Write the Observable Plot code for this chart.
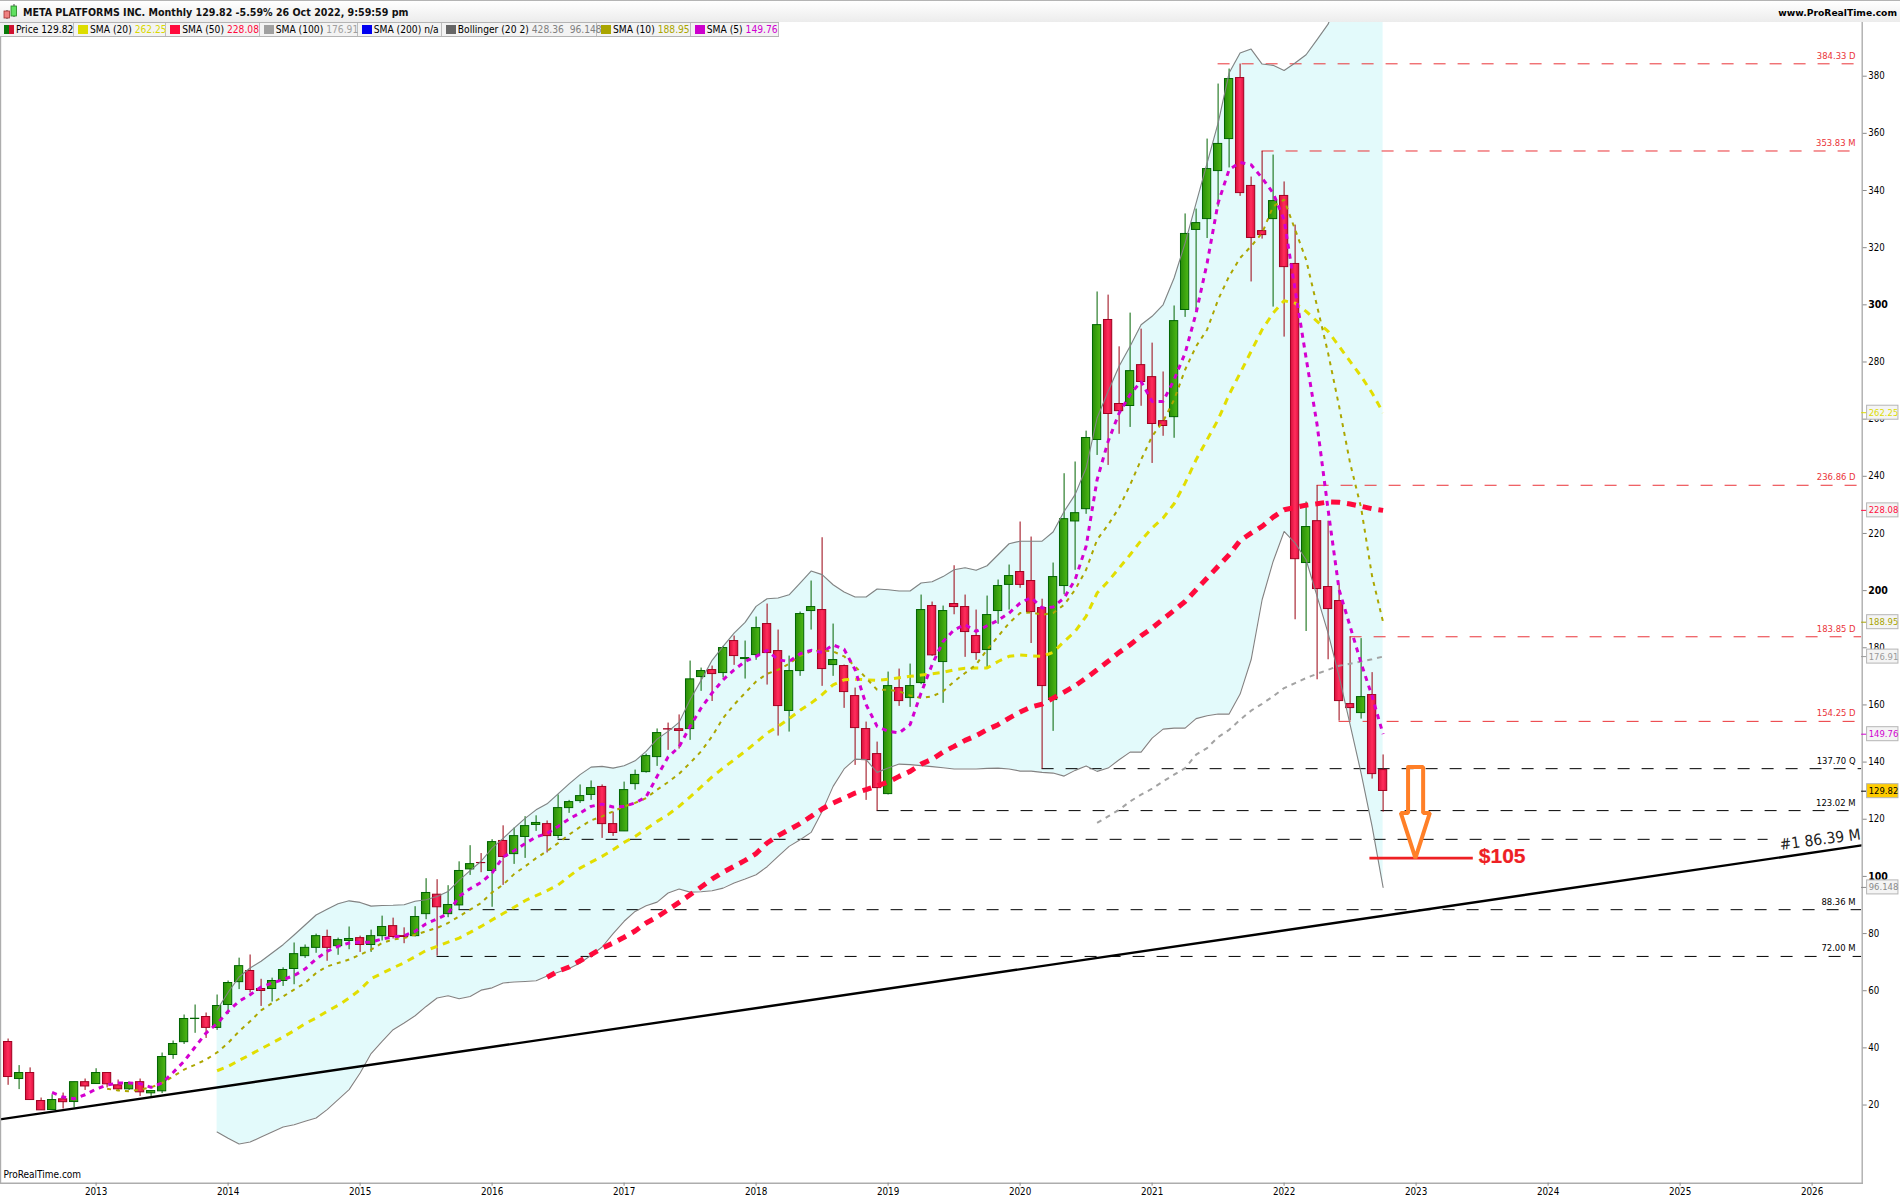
<!DOCTYPE html>
<html>
<head>
<meta charset="utf-8">
<script src="https://cdn.jsdelivr.net/npm/d3@7"></script>
<script src="https://cdn.jsdelivr.net/npm/@observablehq/plot@0.6"></script>
<style>
html,body{margin:0;padding:0;background:#fff;width:1900px;height:1200px;overflow:hidden}
body{position:relative;font-family:"DejaVu Sans Condensed","DejaVu Sans",sans-serif;font-stretch:condensed;color:#000}
#page{position:absolute;left:0;top:0;width:1900px;height:1200px}
#head{position:absolute;left:0;top:0;width:1900px;height:21px;border-top:1px solid #b4b4b4;background:linear-gradient(#ffffff,#ececec);font-size:10.6px;line-height:23px;z-index:2}
#head .t{position:absolute;left:23px;top:0;font-weight:600;color:#111;white-space:nowrap}
#head .w{position:absolute;right:3px;top:0;font-weight:700;white-space:nowrap;font-stretch:normal;font-family:"DejaVu Sans",sans-serif;font-size:9.2px}
#head svg{position:absolute;left:3px;top:2px}
#legend{position:absolute;left:0;top:22px;height:15px;z-index:2;font-size:10.2px;line-height:15px;background:#f3f3f3;border-top:1px solid #b4b4b4;border-bottom:1px solid #b4b4b4;box-sizing:border-box;}
#legend .c{position:absolute;top:0;height:13px;border-right:1px solid #bdbdbd;white-space:nowrap;box-sizing:border-box}
#legend .s{position:absolute;left:4px;top:2px;width:10px;height:9px}
#legend .l{position:absolute;left:16px;top:-1px}
#plot{position:absolute;left:0;top:22px}
#plot svg{display:block;font-stretch:condensed}
</style>
</head>
<body>
<div id="page">
<div id="head">
  <svg width="16" height="18" viewBox="0 0 16 18"><path d="M4 7V16M11 1V14" stroke="#444" stroke-width="1"/><rect x="1" y="8" width="5.5" height="7" fill="#ef8080" stroke="#a03030" stroke-width=".8"/><rect x="8" y="3" width="5.5" height="10" fill="#60e060" stroke="#208020" stroke-width=".8"/></svg>
  <span class="t" id="title"></span><span class="w" id="site"></span>
</div>
<div id="legend"></div>
<div id="plot"></div>
</div>
<script>
const titleText = "META PLATFORMS INC. Monthly 129.82 -5.59% 26 Oct 2022, 9:59:59 pm";
const siteText = "www.ProRealTime.com";
const footerText = "ProRealTime.com";

// Monthly candles, May 2012 (index 0) to Oct 2022 (index 125)
const opens = [42.05,29.1,31.2,21.4,18.25,22,21.05,28,27.35,31.2,26.9,25.5,28,24.1,24.8,37.5,42,50.1,50.8,47,
55,63,66.9,60.6,60.6,63.4,67.6,72.1,75,78.8,75.6,77.4,78.4,76,79.1,82.6,79.1,79.1,86.8,93.6,
86.8,89.85,102.45,104.7,101.9,112.4,107.8,113.8,118,118.3,114.15,123.9,126.35,128.5,131.3,118.3,115.75,132.3,136.5,141.75,
151.5,151.5,151.55,169.75,172.2,171.15,182.35,176.05,177.45,188.3,178.85,157.9,171.85,192.85,193.2,173.95,173.6,163.1,151.55,142.8,
128.8,165.9,162.4,167.65,194.6,175,195.3,194.25,184.1,179.2,192.85,202,206.5,203.35,193.9,161.7,201.6,224.2,228.5,252.7,
294.7,265.3,264.6,278.9,274.7,259.3,260.7,298.2,326.2,330,346.8,358,379.35,341.6,325.8,330,338.1,314.3,209.65,224.3,
201.25,196.35,160.3,157.15,163.45,137.2];
const highs = [43.1,33.8,33,22.45,23.6,24.2,28,29.1,32.7,31.2,28.75,28,29.1,25.1,38.2,42.4,51.5,55,52.2,58.5,
63.4,71.4,72.5,64,64.4,68,76.7,76,79.8,81.2,78.4,82.3,79.1,81.2,86.1,85.4,82,89.4,99.2,98.85,
96.75,105.1,110.75,108,112.85,117.7,116.9,120.9,121.2,119.4,128.5,126.6,132,133.4,132,122.5,133,137.2,142.8,151.6,
153.65,156.5,175.35,172.9,173.6,180.5,184.1,182.35,190.75,195.3,186.2,177.1,192.5,203.35,218.5,188.3,173.95,165.9,154,147,
171.5,172.55,174.3,198.45,196,194.6,208.7,198.45,193.2,198.1,203.7,208.95,224,218.75,197,209.65,240.9,245,255.8,304.5,
303.4,285.3,297.1,291.5,286.6,276.5,299.6,331.8,333.5,358,377.25,382.5,384.25,344.7,353.7,352.4,343,327.9,231,236.7,
224.3,202,183.75,183.2,171.3,142.5];
const lows = [26.9,25.4,21.6,18.1,18.2,18.6,19,25.1,27.3,26,25.1,25.1,23,23,24,36,41.2,45.1,43.3,46.1,
51.7,60.4,59.2,54.5,56.05,61.5,62.1,71.3,73.1,70.3,72.4,74.35,73.4,73.4,77.4,78.1,76.45,78.8,84.85,72.1,
85.55,88.2,100.35,101.3,89.2,96.85,104.2,106.3,115.75,108.2,113.1,122.05,125.55,126.6,113.3,114,115.7,130.2,136.15,138.5,
144.1,144.55,147.6,164.75,161.2,169.4,173.85,169.05,175.6,166.95,149.1,150.5,170,186.2,166.5,170,158.8,138.85,126.6,122.9,
128.5,159.5,159.15,167.1,177,160.55,191.55,176.65,175.6,172.8,188.2,193.2,200.8,181.5,137.55,150.75,198.55,207.1,226.7,247.3,
243.8,254.7,257.1,264.5,244.5,254,253.3,295.6,298,323.2,334.2,347.9,337.95,308,323,299.2,288.7,189.8,185.7,168.8,
175.8,154.35,154.4,155.05,134.05,122.5];
const closes = [29.8,31.2,21.75,18.15,21.75,21,28,26.5,31.2,27.25,25.5,27.7,24.45,24.9,36.8,41.35,50.1,50.2,47,54.65,
62.7,68.6,60.25,59.9,63.4,67.25,72.8,75,79.1,75,77.7,78.1,76,79.1,82.3,78.8,78.8,85.8,94.2,89.2,
90,101.9,104.3,104.65,112,106.8,114.1,117.6,118.7,114.1,123.9,126,128.1,130.9,118.3,115.2,130.2,135.5,142.1,150.15,
151.4,150.9,168.95,171.85,170.8,179.9,177.1,176.4,186.9,178.15,159.6,171.85,191.8,194.25,172.55,175.7,164.5,151.9,140.7,130.9,
166.6,161.35,166.6,193.2,177.35,192.85,194.25,185.5,178.15,191.45,201.6,205.1,202,192.5,166.6,204.75,225,227.1,253.4,292.9,
261.8,262.8,276.8,273,258.3,257.6,294.3,324.8,328.6,347.5,356.3,379,339.1,323.4,324.4,336.3,313.2,211,222.25,200.55,
193.55,161.35,158.9,162.75,135.8,129.9];

// Indicator readings by month index
const sma5Start = 4;
const sma5 = [24.4,22.8,22.2,23.6,25.6,27,27.7,27.7,27.5,26.2,27.7,31.4,35.3,40.3,45.2,48.5,52.8,56.3,58.6,61.3,
62.7,63.9,65.3,67.6,71.1,73.8,75.5,76.7,77,77,78.1,78.8,79.25,80.8,83.4,85.1,87,93,95.7,97.9,
101.2,106.8,109,111.5,113.8,115,117.5,120.1,122.2,124.5,125.3,124.3,124.5,125.7,127.8,135,141.8,145.3,152.5,158.9,
164.2,168.8,172.3,175.2,177,179.1,175.8,175.2,177.9,179.1,178.4,181,179.5,172.3,160.1,152.5,150.75,150.2,153.1,164.2,
174.1,182.2,186.3,188.1,185.7,187.7,189.6,192.15,195.65,197.6,193.9,194.25,197.4,203.8,215.5,238.8,252.2,262.1,268.6,273.2,
266.2,266.2,273.8,283.1,297.1,314.6,335.6,347.3,349.8,349,344.4,339.1,329.8,305.3,281.4,258,228.3,200.3,187.5,174.65,
163,149.76];
const sma10Start = 9;
const sma10 = [25.7,25.1,24.8,25.4,26.2,27.7,30,32.4,34.1,35.9,38.4,41.7,45.8,49.3,53.1,55.7,58,60.4,62.7,66.2,
68.5,69.7,70.9,72.6,74.35,76.7,77.9,78.4,79.6,80.8,82,83.7,86,88.35,90.7,94.4,97.1,100.8,103.5,106.4,
108.9,111.65,114.6,117.3,119.6,121,122.75,124.5,125.7,127.4,130.35,133,135.95,139.7,143.75,149,155.4,160.1,164.2,168.2,
170.9,172.3,174.4,177.2,178.75,179.1,178.75,177,173.5,169.4,165.3,165.3,164.75,163.3,162.4,163,164.75,168.2,171.15,174.1,
179.3,184,188.65,192.15,192.4,191.55,192.15,195.05,200.3,207.3,217.8,223,229,237,245.8,254,259.2,266.8,277.3,285.5,
291.3,301.8,310,316.4,320.5,325.1,334.4,336.8,326.3,315.8,299.5,283.1,264.5,244.6,229,205,188.95];
const sma20Start = 19;
const sma20 = [32,33.5,35.6,37.6,39.7,41.7,43.8,46,48.5,50.45,52.8,54.9,57.45,60.35,64.2,66.1,68,69.8,71.9,74.1,
75.5,77,78.4,80.4,82.5,84.8,87,89.2,91.5,93.25,95,97,100,102.9,105,107,109.35,111.9,114,116.6,
119.25,121.6,124.5,127.8,131.3,134.8,137.9,140.8,143.75,146.9,150.15,152.5,155.2,158.1,160.65,163.6,167.05,168.8,169,168.8,
168.6,169,169.5,170,170.45,170.9,171.4,172.3,172.8,172.9,172.9,175.2,177,177.45,177.2,177,178.4,182.2,185.7,191,
199.15,203.2,207.9,212.55,217.55,221.9,225.4,230.4,237.6,245.8,252.8,259.8,268.6,276.1,283.7,291.3,297.1,301.4,300.6,297.7,
294.2,290.7,285.5,280.2,275,269.15,262.25];
const sma50Start = 49;
const sma50 = [64.7,66.8,68.3,70.5,72.6,74.9,76.7,78.7,80.9,83.7,85.8,88.35,90.9,93.6,96.3,99.1,101.5,103.5,105.6,108,
111.7,114.25,116.35,118.45,121,123.6,125.65,127.4,129.15,130.35,131.7,133,135,136.75,139.3,141,143.5,145.5,147.6,149.2,
151.35,153.1,155.4,157.5,159.25,160.3,162.4,164.5,166.7,169.4,172.3,175.25,178.4,181.05,184.2,186.9,190.05,193.1,196.2,200.3,
204.4,208.5,212.55,217.5,220.1,222.5,225.7,228.3,229.1,229.9,230.4,231,230.9,230.3,229.5,228.65,228.08];
const sma100Start = 99;
const sma100 = [118.7,121,123.3,126.25,128.6,130.7,133.25,135.6,137.9,142.6,144.9,148.75,151.3,154.8,158,160.4,163,165.9,167.65,169.4,
170.9,172.3,173.7,174.4,175.2,176,176.91];
const bollStart = 19;
const bollUpper = [53.35,59.4,64.8,67.95,70.3,73.2,76.1,79.5,83,86.5,88.5,90.4,91.45,90.9,89.6,89.8,89.9,90.1,91.3,91.85,
93,94.75,98.6,102,105.3,109.9,113.3,116.9,120.3,123.3,125.4,128.9,132.4,135.6,138.25,138.5,137.9,138.7,140.45,143.75,
148.05,150.75,153.9,161.8,168.6,175.6,180.5,185.15,188.9,194.5,197.15,197.4,198.55,202.65,206.85,205.6,202.05,199.5,197.75,197.75,
200.55,200.3,199.85,199.85,202.65,203.1,204.9,207.3,208,207.1,208.7,212.55,216.4,217.3,217.3,217.3,220.5,227.7,233.6,242.9,
260.4,269.7,278.5,285.5,293.05,296,300,309.4,321.6,335.6,349.6,363.6,381.1,388.1,389.5,384.25,383.8,382,384.6,387.5,
392.8,398.2,408,416,422,426,428.36];
const bollLower = [10.55,8.35,6.35,7.05,8.8,10.55,12.3,13.1,14.3,15.45,18.4,21.9,25.4,31.2,38,42.3,46.35,48.7,51.25,54.5,
57.45,58.25,57.2,58,60.2,61,62.7,63.05,63.25,63.5,65.15,66.5,67.8,69.7,72.4,75.3,79.95,84.3,87.75,89.75,
91,94.2,95.6,94.5,94.65,95,95.9,97.7,99.1,100.6,103.4,107,110.5,112.85,115.4,122.75,131.5,137.6,141.05,140.85,
136.4,137.9,139.3,139.1,138.75,138.4,138,137.6,137.6,137.6,137.8,137.9,137.6,136.85,136.85,136.4,136.15,135.1,137.1,138.6,
136.75,137.9,140.8,143.5,143.5,148.4,151.55,151.9,151.9,155.2,156.2,156.8,156.8,163.8,175.8,196.8,210.2,220.7,216.65,210.8,
198,185.15,170,153.1,136.15,117.5,96.148];

// Horizontal price levels
const levelValues = [384.33,353.83,236.86,183.85,154.25,137.7,123.02,112.97,88.36,72];
const levelTexts  = ["384.33 D","353.83 M","236.86 D","183.85 D","154.25 D","137.70 Q","123.02 M","","88.36 M","72.00 M"];
const levelStarts = [110,114,119,122,121,94,79,50,41,39];
const levelEnds   = [167.9,167.5,168.1,168.5,168.5,168.5,167.5,160,168.5,168.5];
const levelColors = ["#ea3338","#ea3338","#ea3338","#ea3338","#ea3338","#000","#000","#000","#000","#000"];

// Trend line and drawn annotations
const trendIdx = [-0.76,168.5];
const trendVal = [14.97,110.85];
const trendLabel = "#1 86.39 M";
const targetValue = 106.4;
const targetIdx = [123.8,133.2];
const targetText = "$105";
const arrowIdx = [127.27,128.64,128.64,129.25,127.94,126.61,127.27,127.27];
const arrowVal = [138.3,138.3,122.2,122.2,106.4,122.2,122.2,138.3];

// Right-hand value tags
const tagValues = [262.25,228.08,188.95,176.91,149.76,129.82,96.148];
const tagTexts  = ["262.25","228.08","188.95","176.91","149.76","129.82","96.148"];
const tagColors = ["#dcdc00","#ff1040","#a8a400","#9a9a9a","#d000d0","#000","#8a8a8a"];
const tagFills  = ["#f4f4f4","#f4f4f4","#f4f4f4","#f4f4f4","#f4f4f4","#ffcc00","#f4f4f4"];

// Axes
const yTicks = [20,40,60,80,120,140,160,180,220,240,260,280,320,340,360,380];
const yBoldTicks = [100,200,300];
const yearLabels = [2013,2014,2015,2016,2017,2018,2019,2020,2021,2022,2023,2024,2025,2026];
const yearIdx = yearLabels.map(y => 8 + (y - 2013) * 12);

// Legend row
const legendNames  = ["Price","SMA (20)","SMA (50)","SMA (100)","SMA (200)","Bollinger (20 2)","SMA (10)","SMA (5)"];
const legendValues = ["129.82","262.25","228.08","176.91","n/a","428.36  96.148","188.95","149.76"];
const legendSwatch = ["#c00","#dddd00","#ff0a3c","#a0a0a0","#0000f0","#666","#aaa500","#cc00cc"];
const legendValCol = ["#000","#d8d800","#ff0a3c","#a0a0a0","#000","#808080","#aaa500","#d000d0"];
const legendEdges  = [0,74,166.3,259.7,357.7,441.8,597,690.8,779];

document.getElementById("title").textContent = titleText;
document.getElementById("site").textContent = siteText;
const leg = document.getElementById("legend");
leg.style.width = legendEdges[legendEdges.length-1] + "px";
legendNames.forEach((n,k)=>{
  const c = document.createElement("div"); c.className="c";
  c.style.left = legendEdges[k]+"px"; c.style.width=(legendEdges[k+1]-legendEdges[k])+"px";
  const s = document.createElement("span"); s.className="s";
  s.style.background = k===0 ? "linear-gradient(90deg,#0a7a0a 50%,#d01030 50%)" : legendSwatch[k];
  const l = document.createElement("span"); l.className="l";
  const v = document.createElement("span"); v.style.color=legendValCol[k]; v.style.whiteSpace="pre"; v.textContent=legendValues[k];
  l.append(n+" ",v);
  c.append(s,l); leg.append(c);
});

const candles = opens.map((o,i)=>({i,o,h:highs[i],l:lows[i],c:closes[i]}));
const up = candles.filter(d=>d.c>=d.o), down = candles.filter(d=>d.c<d.o);
const series = (arr,start)=>arr.map((v,k)=>({i:start+k,v}));
const band = bollUpper.map((u,k)=>({i:bollStart+k,u,d:bollLower[k]}));
const levels = levelValues.map((v,k)=>({v,t:levelTexts[k],a:levelStarts[k],b:levelEnds[k],c:levelColors[k]}));
const trend = trendIdx.map((x,k)=>({x,y:trendVal[k]}));
const arrow = arrowIdx.map((x,k)=>({x,y:arrowVal[k]}));
const tags = tagValues.map((v,k)=>({v,t:tagTexts[k],c:tagColors[k],f:tagFills[k]}));
const halfBody = 0.375;
const tagX1 = 169, tagX2 = 171.85, tagH = 2.45, labelEnd = 167.95;

const defs = () => {
  const s = d3.create("svg:defs");
  const g = (id,stops)=>{
    const lg = s.append("linearGradient").attr("id",id).attr("x1",0).attr("x2",1).attr("y1",0).attr("y2",0);
    stops.forEach(([o,c])=>lg.append("stop").attr("offset",o).attr("stop-color",c));
  };
  g("candleUp",[[0,"#2a8c0a"],[0.6,"#3ea80f"],[1,"#4fb518"]]);
  g("candleDown",[[0,"#d80f3c"],[0.55,"#ff2e5c"],[1,"#e01040"]]);
  return s.node();
};

const clipLine = (arr,start,stroke,w,dash) => Plot.line(series(arr,start),{x:"i",y:"v",stroke,strokeWidth:w,strokeDasharray:dash,strokeLinecap:"butt",strokeLinejoin:"miter",clip:true});

const chart = Plot.plot({
  width:1900, height:1178,
  marginLeft:0, marginRight:38.3, marginTop:0, marginBottom:17.3,
  style:{fontFamily:'"DejaVu Sans Condensed","DejaVu Sans",sans-serif',fontSize:"9.6px",background:"#fff",color:"#000"},
  x:{type:"linear",domain:[0,125],range:[7.6,1382.6],axis:null},
  y:{type:"linear",domain:[-7.07,399.07],range:[1159.9,-0.8],axis:null},
  color:{type:"identity"},
  marks:[
    defs,
    Plot.areaY(band,{x:"i",y1:"d",y2:"u",fill:"#e3fafb",clip:true}),
    Plot.ruleY(levels,{y:"v",x1:"a",x2:"b",stroke:"c",strokeWidth:1,strokeDasharray:"12,12"}),
    Plot.text(levels.filter(d=>d.t),{y:"v",x:()=>labelEnd,text:"t",fill:"c",textAnchor:"end",dy:-8,fontSize:9.4}),
    Plot.ruleX(up,{x:"i",y1:"l",y2:"h",stroke:"#006400",strokeWidth:1}),
    Plot.ruleX(down,{x:"i",y1:"l",y2:"h",stroke:"#990010",strokeWidth:1}),
    Plot.rect(up,{x1:d=>d.i-halfBody,x2:d=>d.i+halfBody,y1:"o",y2:"c",fill:"url(#candleUp)",stroke:"#006400",strokeWidth:1}),
    Plot.rect(down,{x1:d=>d.i-halfBody,x2:d=>d.i+halfBody,y1:"o",y2:"c",fill:"url(#candleDown)",stroke:"#a00020",strokeWidth:1}),
    Plot.line(band,{x:"i",y:"u",stroke:"#828282",strokeWidth:1.1,clip:true}),
    Plot.line(band,{x:"i",y:"d",stroke:"#828282",strokeWidth:1.1,clip:true}),
    clipLine(sma100,sma100Start,"#a3a3a3",2,"5,5"),
    clipLine(sma20,sma20Start,"#e2de00",3,"7,6"),
    clipLine(sma10,sma10Start,"#aca600",2,"4,5"),
    clipLine(sma50,sma50Start,"#ff0a3c",5,"9,7"),
    clipLine(sma5,sma5Start,"#d400d0",3,"5,5"),
    Plot.line(trend,{x:"x",y:"y",stroke:"#000",strokeWidth:2.4,clip:true}),
    Plot.text([trendLabel],{x:()=>trendIdx[1]-0.1,y:()=>trendVal[1],text:d=>d,rotate:-7.6,textAnchor:"end",dy:-11,fontSize:15.5,fill:"#222"}),
    Plot.ruleY([targetValue],{x1:()=>targetIdx[0],x2:()=>targetIdx[1],stroke:"#ee2024",strokeWidth:2.6}),
    Plot.line(arrow,{x:"x",y:"y",stroke:"#ff7f27",strokeWidth:4,strokeLinejoin:"miter"}),
    Plot.text([targetText],{x:()=>targetIdx[1]+0.5,y:()=>targetValue+0.6,text:d=>d,textAnchor:"start",fill:"#ee2024",fontWeight:"bold",fontSize:21,fontFamily:"Liberation Sans",stroke:"#ee2024",strokeWidth:0.2}),
    Plot.frame({anchor:"right",stroke:"#adadad",strokeWidth:1.4}),
    Plot.frame({anchor:"left",stroke:"#adadad",strokeWidth:1.4}),
    Plot.frame({anchor:"bottom",stroke:"#adadad",strokeWidth:1.4}),
    Plot.axisY(yTicks,{anchor:"right",label:null,tickSize:4,tickPadding:2,stroke:"#8a8a8a",fontSize:9.6,fill:"#000",tickFormat:d=>String(d)}),
    Plot.axisY(yBoldTicks,{anchor:"right",label:null,tickSize:4,tickPadding:2,stroke:"#8a8a8a",fontSize:10.5,fontWeight:"bold",fill:"#000",fontFamily:"DejaVu Sans",tickFormat:d=>String(d)}),
    Plot.axisX(yearIdx,{anchor:"bottom",label:null,tickSize:3,tickPadding:2,stroke:"#8a8a8a",fontSize:9.8,fill:"#000",tickFormat:d=>String(yearLabels[yearIdx.indexOf(d)])}),
    Plot.ruleY(tags,{y:"v",x1:()=>168.5,x2:()=>tagX1,stroke:"c",strokeWidth:1}),
    Plot.rect(tags,{x1:()=>tagX1,x2:()=>tagX2,y1:d=>d.v-tagH,y2:d=>d.v+tagH,fill:"f",stroke:"#b5b5b5",strokeWidth:1}),
    Plot.text(tags,{x:()=>tagX1+0.15,y:"v",text:"t",fill:"c",textAnchor:"start",fontSize:9.4}),
    Plot.text([footerText],{frameAnchor:"bottom-left",text:d=>d,dx:3,dy:-5,fontSize:10,fill:"#000",textAnchor:"start"})
  ]
});
document.getElementById("plot").append(chart);
</script>
</body>
</html>
